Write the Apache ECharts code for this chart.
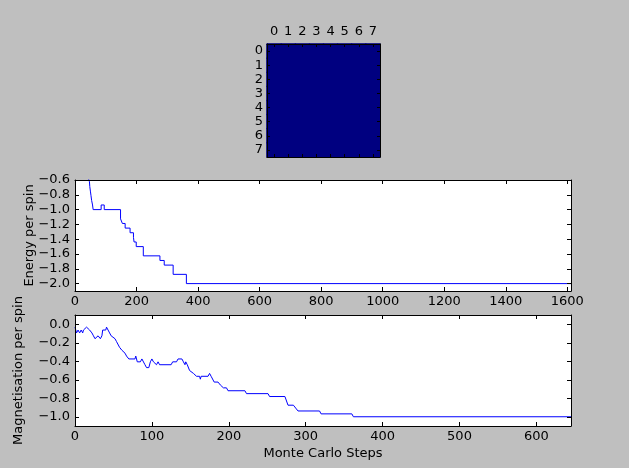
<!DOCTYPE html>
<html><head><meta charset="utf-8">
<script src="https://cdn.jsdelivr.net/npm/echarts@6/dist/echarts.min.js"></script>
<style>html,body{margin:0;padding:0;background:#bfbfbf;}#c{width:629px;height:468px;}</style>
</head><body><div id="c"></div>
<script>
// ---- data ----
const latticeCats = ['0','1','2','3','4','5','6','7'];
const spins = [
  [-1,-1,-1,-1,-1,-1,-1,-1],
  [-1,-1,-1,-1,-1,-1,-1,-1],
  [-1,-1,-1,-1,-1,-1,-1,-1],
  [-1,-1,-1,-1,-1,-1,-1,-1],
  [-1,-1,-1,-1,-1,-1,-1,-1],
  [-1,-1,-1,-1,-1,-1,-1,-1],
  [-1,-1,-1,-1,-1,-1,-1,-1],
  [-1,-1,-1,-1,-1,-1,-1,-1]
];
const energySteps  = [0, 8, 15, 22, 28, 33, 38, 42, 45, 47, 48, 50, 52, 54, 57, 59, 85, 95, 148, 154, 163, 179, 190, 192, 199, 222, 276, 290, 319, 362, 1612];
const energyValues = [-0.125, -0.1875, -0.25, -0.3125, -0.375, -0.4375, -0.5, -0.5625, -0.5625, -0.625, -0.6875, -0.75, -0.8125, -0.875, -0.9375, -1.0, -0.9375, -1.0, -1.125, -1.1875, -1.25, -1.3125, -1.375, -1.4375, -1.5, -1.625, -1.6875, -1.75, -1.875, -2.0, -2.0];
const magSteps  = [0, 2, 4, 6, 8, 10, 11, 13, 15, 17, 19, 21, 22, 24, 26, 28, 30, 31, 33, 35, 36, 38, 40, 41, 43, 45, 47, 49, 52, 54, 56, 58, 61, 63, 65, 67, 70, 78, 79, 81, 85, 87, 89, 91, 93, 96, 98, 100, 102, 104, 106, 108, 110, 125, 127, 132, 134, 139, 141, 143, 144, 146, 149, 151, 154, 156, 158, 162, 163, 164, 173, 175, 177, 179, 181, 186, 189, 191, 193, 197, 199, 221, 223, 251, 253, 273, 277, 284, 287, 290, 318, 320, 360, 362, 645];
const magValues = [-0.03125, -0.09375, -0.0625, -0.09375, -0.0625, -0.09375, -0.0625, -0.0625, -0.03125, -0.03125, -0.0625, -0.0625, -0.09375, -0.125, -0.15625, -0.15625, -0.125, -0.125, -0.15625, -0.125, -0.0625, -0.0625, -0.0625, -0.03125, -0.0625, -0.09375, -0.125, -0.125, -0.15625, -0.1875, -0.1875, -0.25, -0.28125, -0.28125, -0.3125, -0.34375, -0.375, -0.375, -0.34375, -0.40625, -0.40625, -0.375, -0.375, -0.4375, -0.46875, -0.46875, -0.40625, -0.375, -0.40625, -0.40625, -0.4375, -0.40625, -0.4375, -0.4375, -0.40625, -0.40625, -0.375, -0.375, -0.40625, -0.4375, -0.40625, -0.4375, -0.5, -0.5, -0.53125, -0.53125, -0.5625, -0.5625, -0.59375, -0.5625, -0.5625, -0.53125, -0.5625, -0.5625, -0.625, -0.625, -0.65625, -0.65625, -0.6875, -0.6875, -0.71875, -0.71875, -0.75, -0.75, -0.78125, -0.78125, -0.875, -0.875, -0.90625, -0.9375, -0.9375, -0.96875, -0.96875, -1.0, -1.0];
const energyXTicks = [0, 200, 400, 600, 800, 1000, 1200, 1400, 1600];
const energyYTicks = [-2.0, -1.8, -1.6, -1.4, -1.2, -1.0, -0.8, -0.6];
const magXTicks = [0, 100, 200, 300, 400, 500, 600];
const magYTicks = [-1.0, -0.8, -0.6, -0.4, -0.2, 0.0];
const energyRange = {xMin: 0, xMax: 1612, yMin: -2.1, yMax: -0.6};
const magRange = {xMin: 0, xMax: 645, yMin: -1.1, yMax: 0.1};

// ---- chart ----
const FONT = 'DejaVu Sans';
const txt = {fontFamily: FONT, fontSize: 13, color: '#000'};
const fmtY = v => Number(v).toFixed(1).replace('-', '\u2212');
const fmtX = v => String(Math.round(v));

function valAxis(gridIndex, position, min, max, ticks, showLabel, fmt, extra) {
  return Object.assign({
    type: 'value', gridIndex, position, min, max, z: 5,
    axisLine: {show: true, onZero: false, lineStyle: {color: '#000', width: 1}},
    axisTick: {show: true, inside: true, length: 4, lineStyle: {color: '#000', width: 1}, customValues: ticks},
    axisLabel: {show: showLabel, customValues: ticks, formatter: fmt, margin: (position === 'left' || position === 'right') ? 5 : 4, ...txt},
    splitLine: {show: false}
  }, extra || {});
}
function catAxis(gridIndex, position, showLabel, inverse) {
  return {
    type: 'category', data: latticeCats, gridIndex, position, inverse: !!inverse, z: 5,
    axisLine: {show: true, onZero: false, lineStyle: {color: '#000', width: 1}},
    axisTick: {show: true, inside: true, length: 3, alignWithLabel: true, interval: 0, lineStyle: {color: '#000', width: 1}},
    axisLabel: {show: showLabel, interval: 0, margin: (position === 'left') ? 4 : 6, ...txt},
    splitLine: {show: false}
  };
}

const heatData = [];
spins.forEach((row, r) => row.forEach((v, c) => heatData.push([c, r, v])));

const chart = echarts.init(document.getElementById('c'), null, {renderer: 'canvas'});
chart.setOption({
  backgroundColor: '#bfbfbf',
  animation: false,
  textStyle: {fontFamily: FONT},
  grid: [
    {left: 267, top: 44, width: 113, height: 113, show: false},
    {left: 75, top: 180, width: 496, height: 111, show: true, backgroundColor: '#fff', borderWidth: 0},
    {left: 75, top: 315, width: 496, height: 111, show: true, backgroundColor: '#fff', borderWidth: 0}
  ],
  visualMap: {
    show: false, seriesIndex: 0, min: -1, max: 1, dimension: 2,
    inRange: {color: ['#000080', '#0000ff', '#0080ff', '#00ffff', '#80ff80', '#ffff00', '#ff8000', '#ff0000', '#800000']}
  },
  xAxis: [
    catAxis(0, 'top', true, false),
    catAxis(0, 'bottom', false, false),
    valAxis(1, 'bottom', energyRange.xMin, energyRange.xMax, energyXTicks, true, fmtX),
    valAxis(1, 'top', energyRange.xMin, energyRange.xMax, energyXTicks, false, fmtX),
    valAxis(2, 'bottom', magRange.xMin, magRange.xMax, magXTicks, true, fmtX,
      {name: 'Monte Carlo Steps', nameLocation: 'middle', nameGap: 21, nameMoveOverlap: false, nameTextStyle: txt}),
    valAxis(2, 'top', magRange.xMin, magRange.xMax, magXTicks, false, fmtX)
  ],
  yAxis: [
    catAxis(0, 'left', true, true),
    catAxis(0, 'right', false, true),
    valAxis(1, 'left', energyRange.yMin, energyRange.yMax, energyYTicks, true, fmtY,
      {name: 'Energy per spin', nameLocation: 'middle', nameGap: 39, nameMoveOverlap: false, nameTextStyle: txt}),
    valAxis(1, 'right', energyRange.yMin, energyRange.yMax, energyYTicks, false, fmtY),
    valAxis(2, 'left', magRange.yMin, magRange.yMax, magYTicks, true, fmtY,
      {name: 'Magnetisation per spin', nameLocation: 'middle', nameGap: 50, nameMoveOverlap: false, nameTextStyle: txt}),
    valAxis(2, 'right', magRange.yMin, magRange.yMax, magYTicks, false, fmtY)
  ],
  series: [
    {type: 'heatmap', xAxisIndex: 0, yAxisIndex: 0, data: heatData, z: 1,
      itemStyle: {borderWidth: 1, borderColor: '#000080'}, emphasis: {disabled: true}},
    {type: 'line', xAxisIndex: 2, yAxisIndex: 2, step: 'end', symbol: 'none', clip: true,
      data: energySteps.map((s, i) => [s, energyValues[i]]),
      lineStyle: {color: '#0000ff', width: 1}},
    {type: 'line', xAxisIndex: 4, yAxisIndex: 4, symbol: 'none', clip: true,
      data: magSteps.map((s, i) => [s, magValues[i]]),
      lineStyle: {color: '#0000ff', width: 1}}
  ]
});
</script></body></html>
